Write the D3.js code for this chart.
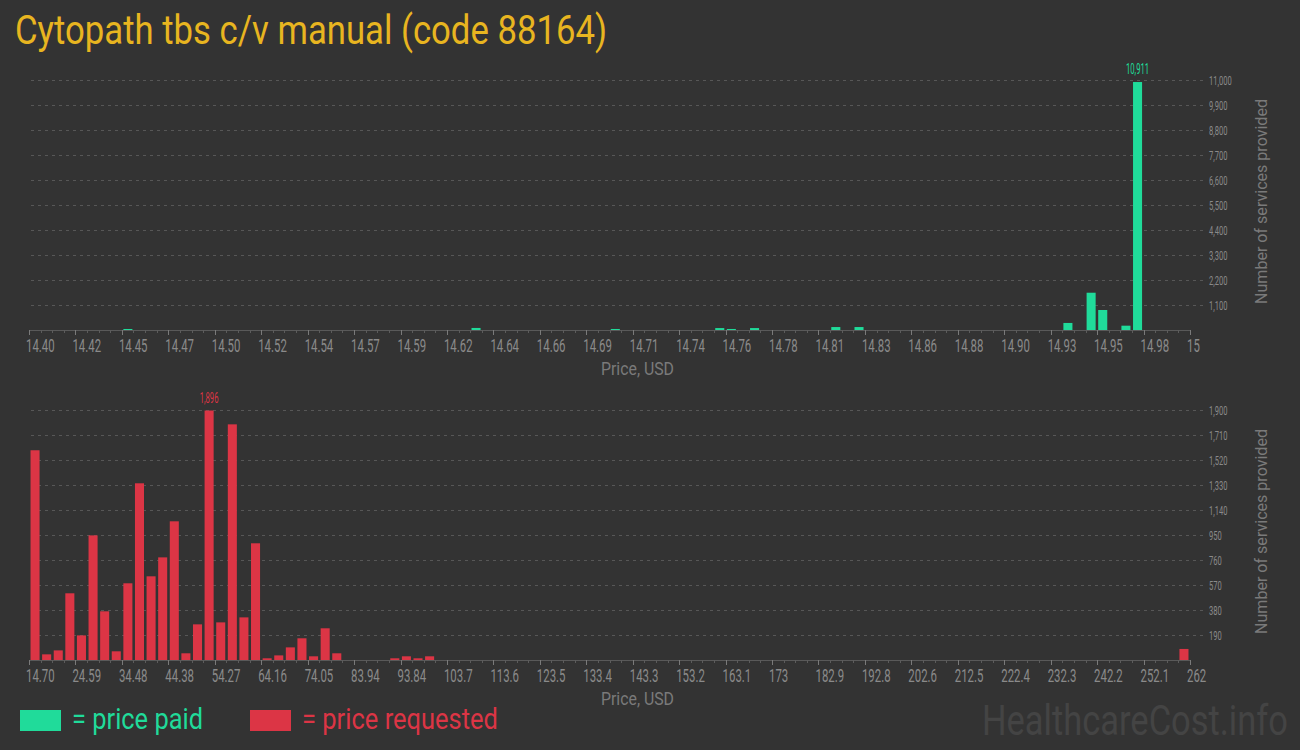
<!DOCTYPE html>
<html>
<head>
<meta charset="utf-8">
<script src="https://cdn.jsdelivr.net/npm/d3@7"></script>
<style>
  html, body { margin: 0; padding: 0; background: #333333; }
  svg { display: block; }
  text { font-family: Roboto, "Noto Sans", sans-serif; }
</style>
</head>
<body>
<svg id="chart" width="1300" height="750"></svg>
<script>
// ---------- DATA ----------
const titleText = "Cytopath tbs c/v manual (code 88164)";

// price paid histogram (100 bins from 14.40 to 15)
const paidBins   = [8, 38, 50, 59, 60, 62, 69, 71, 89, 91, 92, 94, 95];
const paidCounts = [45, 90, 45, 85, 45, 85, 130, 130, 310, 1640, 880, 190, 10911];
const paidTicks  = ["14.40","14.42","14.45","14.47","14.50","14.52","14.54","14.57","14.59","14.62","14.64","14.66","14.69","14.71","14.74","14.76","14.78","14.81","14.83","14.86","14.88","14.90","14.93","14.95","14.98","15"];
const paidYTicks = [1100, 2200, 3300, 4400, 5500, 6600, 7700, 8800, 9900, 11000];
const paidYMax   = 11000;

// price requested histogram (100 bins from 14.70 to 262)
const reqBins   = [0,1,2,3,4,5,6,7,8,9,10,11,12,13,14,15,16,17,18,19,20,21,22,23,24,25,26,31,32,33,34,99];
const reqCounts = [1594,43,73,507,187,947,370,66,583,1343,636,780,1054,51,271,1896,286,1791,324,887,13,35,96,165,28,241,51,13,28,13,28,84];
const reqTicks  = ["14.70","24.59","34.48","44.38","54.27","64.16","74.05","83.94","93.84","103.7","113.6","123.5","133.4","143.3","153.2","163.1","173","182.9","192.8","202.6","212.5","222.4","232.3","242.2","252.1","262"];
const reqYTicks = [190, 380, 570, 760, 950, 1140, 1330, 1520, 1710, 1900];
const reqYMax   = 1900;

const binCount = 100;
const legendLabels = ["= price paid", "= price requested"];

// ---------- STYLE ----------
const GREEN = "#20db9a";
const RED = "#dc3545";
const GOLD = "#e8b520";
const TICK_GRAY = "#8a8a8a";
const TITLE_GRAY = "#7a7a7a";

const svg = d3.select("#chart");

function condense(sel, k) {
  sel.each(function () {
    const w = this.getComputedTextLength();
    this.setAttribute("textLength", (w * k).toFixed(2));
    this.setAttribute("lengthAdjust", "spacingAndGlyphs");
  });
}
function fitWidth(sel, w) {
  sel.attr("textLength", w).attr("lengthAdjust", "spacingAndGlyphs");
}

// title
svg.append("text")
  .attr("x", 15).attr("y", 44)
  .attr("fill", GOLD)
  .style("font-size", "41px")
  .text(titleText)
  .call(fitWidth, 592);

function drawPanel(opts) {
  const g = svg.append("g");
  const x0 = 29, x1 = 1190;
  const base = opts.base, topY = opts.base - 250;

  const xBand = d3.scaleBand()
    .domain(d3.range(binCount))
    .range([x0, x1])
    .paddingInner(0.22)
    .paddingOuter(0.13);
  const xLin = d3.scaleLinear().domain([0, binCount]).range([x0, x1]);
  const y = d3.scaleLinear().domain([0, opts.yMax]).range([base, topY]);

  // gridlines
  g.append("g").selectAll("line")
    .data(opts.yTicks).join("line")
    .attr("x1", 31).attr("x2", 1205)
    .attr("y1", d => Math.round(y(d)) + 0.5)
    .attr("y2", d => Math.round(y(d)) + 0.5)
    .attr("stroke", "#575757")
    .attr("stroke-dasharray", "3,4");

  // y tick labels
  g.append("g").selectAll("text")
    .data(opts.yTicks).join("text")
    .attr("x", 1209)
    .attr("y", d => y(d))
    .attr("dy", "0.35em")
    .attr("fill", TICK_GRAY)
    .style("font-size", "13px")
    .text(d => d3.format(",")(d))
    .call(condense, 0.58);

  // y axis title
  g.append("text")
    .attr("transform", `translate(1267,${base - 128.5}) rotate(-90)`)
    .attr("text-anchor", "middle")
    .attr("fill", TITLE_GRAY)
    .style("font-size", "17px")
    .text("Number of services provided")
    .call(fitWidth, 205);

  // bars
  g.append("g").selectAll("rect")
    .data(opts.bins.map((b, i) => ({ bin: b, v: opts.counts[i] })))
    .join("rect")
    .attr("x", d => xBand(d.bin))
    .attr("width", xBand.bandwidth())
    .attr("y", d => y(d.v))
    .attr("height", d => base - y(d.v))
    .attr("fill", opts.color);

  // max label
  const maxIdx = d3.maxIndex(opts.counts);
  g.append("text")
    .attr("x", xBand(opts.bins[maxIdx]) + xBand.bandwidth() / 2)
    .attr("y", y(opts.counts[maxIdx]) - 8)
    .attr("text-anchor", "middle")
    .attr("fill", opts.color)
    .style("font-size", "14px")
    .text(d3.format(",")(opts.counts[maxIdx]))
    .call(condense, 0.55);

  // x axis line
  g.append("line")
    .attr("x1", x0).attr("x2", x1)
    .attr("y1", base + 0.5).attr("y2", base + 0.5)
    .attr("stroke", "#595959");

  // minor ticks
  g.append("g").selectAll("line")
    .data(d3.range(binCount + 1).filter(i => i % 4 !== 0)).join("line")
    .attr("x1", i => Math.round(xLin(i)) + 0.5)
    .attr("x2", i => Math.round(xLin(i)) + 0.5)
    .attr("y1", base).attr("y2", base + 3)
    .attr("stroke", "#5c5c5c");

  // major ticks
  g.append("g").selectAll("line")
    .data(opts.ticks.map((t, i) => i * 4)).join("line")
    .attr("x1", i => Math.round(xLin(i)) + 0.5)
    .attr("x2", i => Math.round(xLin(i)) + 0.5)
    .attr("y1", base).attr("y2", base + 5)
    .attr("stroke", "#7a7a7a");

  // x tick labels
  g.append("g").selectAll("text")
    .data(opts.ticks).join("text")
    .attr("x", (t, i) => xLin(i * 4) - 3)
    .attr("y", base + 22)
    .attr("fill", TICK_GRAY)
    .style("font-size", "19px")
    .text(t => t)
    .call(condense, 0.6);

  // x axis title
  g.append("text")
    .attr("x", 637.5).attr("y", base + 45)
    .attr("text-anchor", "middle")
    .attr("fill", TITLE_GRAY)
    .style("font-size", "18px")
    .text("Price, USD")
    .call(fitWidth, 73);
}

drawPanel({ base: 330, yMax: paidYMax, yTicks: paidYTicks, bins: paidBins, counts: paidCounts, ticks: paidTicks, color: GREEN });
drawPanel({ base: 660, yMax: reqYMax, yTicks: reqYTicks, bins: reqBins, counts: reqCounts, ticks: reqTicks, color: RED });

// legend
const legend = svg.append("g");
legend.append("rect").attr("x", 20).attr("y", 710).attr("width", 41).attr("height", 21).attr("fill", GREEN);
legend.append("text").attr("x", 72).attr("y", 729).attr("fill", GREEN)
  .style("font-size", "29px").text(legendLabels[0]).call(fitWidth, 131);
legend.append("rect").attr("x", 250).attr("y", 710).attr("width", 41).attr("height", 21).attr("fill", RED);
legend.append("text").attr("x", 302).attr("y", 729).attr("fill", RED)
  .style("font-size", "29px").text(legendLabels[1]).call(fitWidth, 196);

// watermark (condensed through a horizontal scale so its box stays inside the page)
const wm = svg.append("g");
const wmText = wm.append("text")
  .attr("x", 0).attr("y", 0)
  .attr("fill", "#444444")
  .style("font-size", "42px")
  .text("HealthcareCost.info");
const wmW = wmText.node().getComputedTextLength();
wm.attr("transform", `translate(982,735) scale(${306 / wmW},1)`);
</script>
</body>
</html>
